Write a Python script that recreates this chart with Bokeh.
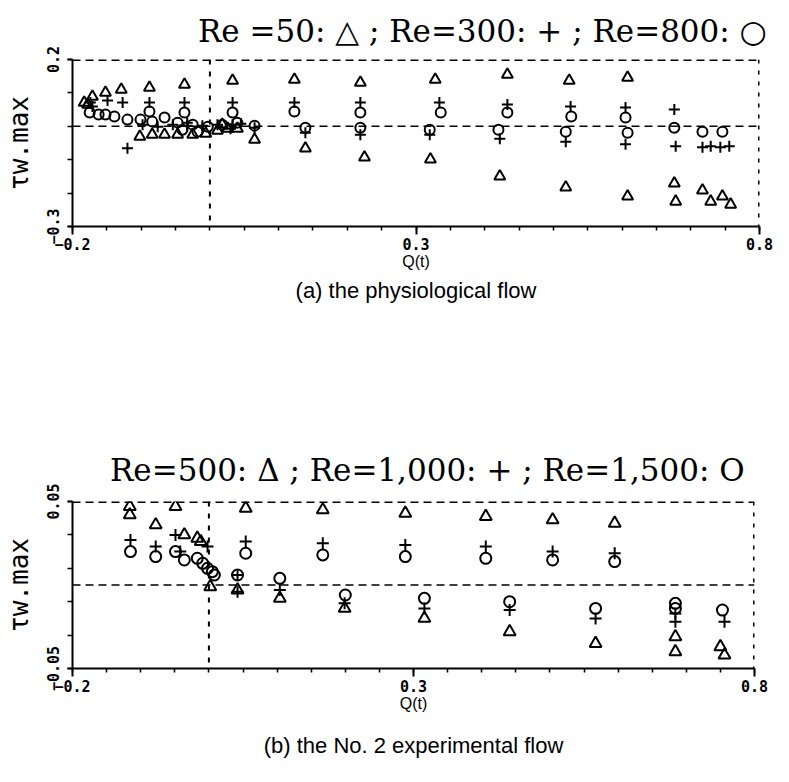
from bokeh.plotting import figure
from bokeh.layouts import column
from bokeh.models import Range1d, FixedTicker, Span, Title
from bokeh.embed import file_html
from bokeh.resources import INLINE

# ---------------- data: panel (a) physiological flow ----------------
a_re50_q = [-0.171, -0.152, -0.129, -0.088, -0.037, 0.033, 0.123, 0.219, 0.328, 0.433, 0.523, 0.608,
            -0.183, -0.178, -0.102, -0.084, -0.066, -0.047, -0.025, -0.006, 0.011, 0.018, 0.026, 0.040,
            0.065, 0.139, 0.225, 0.321, 0.422, 0.518, 0.608, 0.676, 0.678, 0.717, 0.729, 0.746, 0.758]
a_re50_tau = [0.089, 0.101, 0.110, 0.116, 0.125, 0.137, 0.140, 0.131, 0.140, 0.155, 0.137, 0.146,
              0.071, 0.065, -0.031, -0.025, -0.025, -0.025, -0.025, -0.022, -0.013, 0.005, -0.007, -0.007,
              -0.040, -0.066, -0.093, -0.099, -0.150, -0.183, -0.210, -0.171, -0.225, -0.192, -0.225, -0.210, -0.234]

a_re300_q = [-0.174, -0.171, -0.149, -0.127, -0.088, -0.037, 0.033, 0.123, 0.219, 0.334, 0.433, 0.525, 0.605, 0.676,
             -0.120, -0.098, -0.076, -0.054, -0.033, -0.033, -0.011, 0.011, 0.030, 0.033, 0.045,
             0.065, 0.139, 0.219, 0.320, 0.422, 0.518, 0.605, 0.678, 0.717, 0.729, 0.743, 0.756]
a_re300_tau = [0.071, 0.059, 0.077, 0.071, 0.071, 0.071, 0.071, 0.071, 0.071, 0.071, 0.065, 0.059, 0.056, 0.050,
               -0.066, 0.005, -0.001, 0.005, 0.002, 0.011, 0.002, 0.005, -0.007, 0.005, 0.008,
               -0.004, -0.019, -0.025, -0.025, -0.037, -0.046, -0.054, -0.060, -0.063, -0.060, -0.063, -0.060]

a_re800_q = [-0.175, -0.162, -0.152, -0.139, -0.120, -0.101, -0.088, -0.084, -0.066, -0.037, 0.033, 0.123,
             0.219, 0.336, 0.433, 0.526, 0.605,
             -0.047, -0.040, -0.025, -0.018, -0.003, 0.018, 0.040,
             0.065, 0.139, 0.219, 0.320, 0.420, 0.518, 0.608, 0.676, 0.717, 0.746]
a_re800_tau = [0.041, 0.035, 0.035, 0.029, 0.020, 0.020, 0.044, 0.014, 0.026, 0.041, 0.041, 0.044,
               0.041, 0.041, 0.041, 0.029, 0.026,
               0.011, -0.010, 0.005, -0.016, -0.001, 0.005, 0.011,
               0.002, -0.004, -0.004, -0.010, -0.010, -0.016, -0.019, -0.004, -0.016, -0.016]

# ---------------- data: panel (b) No. 2 experimental flow ----------------
b_re500_q = [-0.116, -0.116, -0.078, -0.049, -0.036, -0.017, -0.012, 0.002, 0.042, 0.054, 0.104, 0.167,
             0.199, 0.288, 0.316, 0.406, 0.441, 0.504, 0.567, 0.595, 0.684, 0.684, 0.750, 0.756]
b_re500_tau = [0.047, 0.042, 0.036, 0.047, 0.030, 0.028, 0.026, -0.001, -0.003, 0.046, -0.008, 0.045,
               -0.014, 0.043, -0.020, 0.041, -0.028, 0.039, -0.035, 0.037, -0.031, -0.040, -0.037, -0.042]

b_re1000_q = [-0.115, -0.078, -0.049, -0.042, -0.002, 0.042, 0.042, 0.054, 0.104, 0.167, 0.199,
              0.288, 0.316, 0.406, 0.441, 0.504, 0.567, 0.595, 0.684, 0.684, 0.756]
b_re1000_tau = [0.027, 0.023, 0.030, 0.020, 0.023, 0.006, -0.004, 0.026, -0.003, 0.025, -0.011,
                0.024, -0.014, 0.023, -0.015, 0.020, -0.020, 0.019, -0.017, -0.022, -0.022]

b_re1500_q = [-0.115, -0.078, -0.049, -0.036, -0.017, -0.009, -0.002, 0.005, 0.008, 0.042, 0.054, 0.104,
              0.167, 0.200, 0.288, 0.316, 0.406, 0.441, 0.504, 0.567, 0.595, 0.684, 0.684, 0.753]
b_re1500_tau = [0.020, 0.017, 0.020, 0.015, 0.016, 0.013, 0.010, 0.008, 0.006, 0.006, 0.019, 0.004,
                0.018, -0.006, 0.017, -0.008, 0.016, -0.010, 0.015, -0.014, 0.014, -0.011, -0.014, -0.015]

# ---------------- axes / ticks ----------------
x_range_lims = (-0.2, 0.8)
x_major_ticks = [-0.2, 0.3, 0.8]
x_minor_ticks = [-0.2, -0.15, -0.1, -0.05, 0.0, 0.05, 0.1, 0.15, 0.2, 0.25, 0.3, 0.35, 0.4, 0.45,
                 0.5, 0.55, 0.6, 0.65, 0.7, 0.75, 0.8]
a_y_lims = (-0.3, 0.2)
a_y_major = [-0.3, 0.2]
a_y_minor = [-0.3, -0.2, -0.1, 0.0, 0.1, 0.2]
b_y_lims = (-0.05, 0.05)
b_y_major = [-0.05, 0.05]
b_y_minor = [-0.05, -0.03, -0.01, 0.01, 0.03, 0.05]

a_title = "Re =50: \u25b3 ; Re=300: + ; Re=800:  \u25cb"
b_title = "Re=500: \u0394 ; Re=1,000: + ; Re=1,500:  O"
a_caption = "(a) the physiological flow"
b_caption = "(b) the No. 2 experimental flow"
x_label = "Q(t)"
y_label = "\u03c4w.max"


def make_panel(title, title_size, title_standoff, title_offset, caption, caption_standoff, ylims, ymaj, ymin,
               frame_w, b_top, b_bottom, b_right, series, tri_size, circ_size):
    p = figure(frame_width=frame_w, frame_height=167,
               x_range=Range1d(*x_range_lims), y_range=Range1d(*ylims),
               output_backend="svg", toolbar_location=None,
               min_border_left=72, min_border_right=b_right,
               min_border_top=b_top, min_border_bottom=b_bottom)
    p.grid.visible = False
    p.outline_line_color = None
    p.background_fill_color = "white"
    p.border_fill_color = "white"

    xa = p.xaxis[0]
    xa.ticker = FixedTicker(ticks=x_major_ticks, minor_ticks=x_minor_ticks)
    ya = p.yaxis[0]
    ya.ticker = FixedTicker(ticks=ymaj, minor_ticks=ymin)
    for ax in (xa, ya):
        ax.axis_line_width = 2
        ax.axis_line_color = "black"
        ax.major_tick_line_width = 2
        ax.minor_tick_line_width = 1.5
        ax.major_tick_in = 0
        ax.minor_tick_in = 0
        ax.major_label_text_font = "DejaVu Sans Mono"
        ax.major_label_text_font_style = "bold"
        ax.major_label_text_font_size = "15px"
        ax.major_label_text_color = "black"
        ax.axis_label_text_font_style = "normal"
        ax.axis_label_text_color = "black"
    xa.major_tick_out = 8
    xa.minor_tick_out = 4
    xa.major_label_standoff = 3
    xa.axis_label = x_label
    xa.axis_label_text_font = "Liberation Sans"
    xa.axis_label_text_font_size = "16px"
    xa.axis_label_standoff = 0
    ya.major_tick_out = 5
    ya.minor_tick_out = 5
    ya.major_label_orientation = "vertical"
    ya.major_label_standoff = 9
    ya.axis_label = y_label
    ya.axis_label_text_font = "DejaVu Sans Mono"
    ya.axis_label_text_font_size = "26px"
    ya.axis_label_standoff = 10

    # dashed frame lines and zero lines
    p.add_layout(Span(location=ylims[1], dimension="width", line_dash="8 5", line_width=3, line_color="black"))
    p.add_layout(Span(location=x_range_lims[1], dimension="height", line_dash="4 7", line_width=3, line_color="black"))
    p.add_layout(Span(location=0, dimension="width", line_dash="8 5", line_width=1.5, line_color="black"))
    p.add_layout(Span(location=0, dimension="height", line_dash="5 7", line_width=2, line_color="black"))

    (tq, tt), (cq, ct), (oq, ot) = series
    p.scatter(tq, tt, marker="triangle", size=tri_size, fill_alpha=0, line_color="black", line_width=2)
    p.scatter(cq, ct, marker="cross", size=tri_size, line_color="black", line_width=2)
    p.scatter(oq, ot, marker="circle", size=circ_size, fill_alpha=0, line_color="black", line_width=2)

    p.add_layout(Title(text=title, align="right", text_font="DejaVu Serif",
                       text_font_size=title_size, text_font_style="normal", text_color="black",
                       standoff=title_standoff, offset=title_offset), "above")
    p.add_layout(Title(text=caption, align="center", text_font="Liberation Sans",
                       text_font_size="22px", text_font_style="normal", text_color="black",
                       standoff=caption_standoff), "below")
    return p


pa = make_panel(a_title, "31px", 21, -17, a_caption, 6, a_y_lims, a_y_major, a_y_minor, 687, 57, 75, 20,
                [(a_re50_q, a_re50_tau), (a_re300_q, a_re300_tau), (a_re800_q, a_re800_tau)], 11, 10)
pb = make_panel(b_title, "31px", 28, 0, b_caption, 33, b_y_lims, b_y_major, b_y_minor, 682, 196, 101, 25,
                [(b_re500_q, b_re500_tau), (b_re1000_q, b_re1000_tau), (b_re1500_q, b_re1500_tau)], 12, 11)

layout = column(pa, pb, spacing=0)
open("out.html", "w").write(file_html(layout, INLINE))
